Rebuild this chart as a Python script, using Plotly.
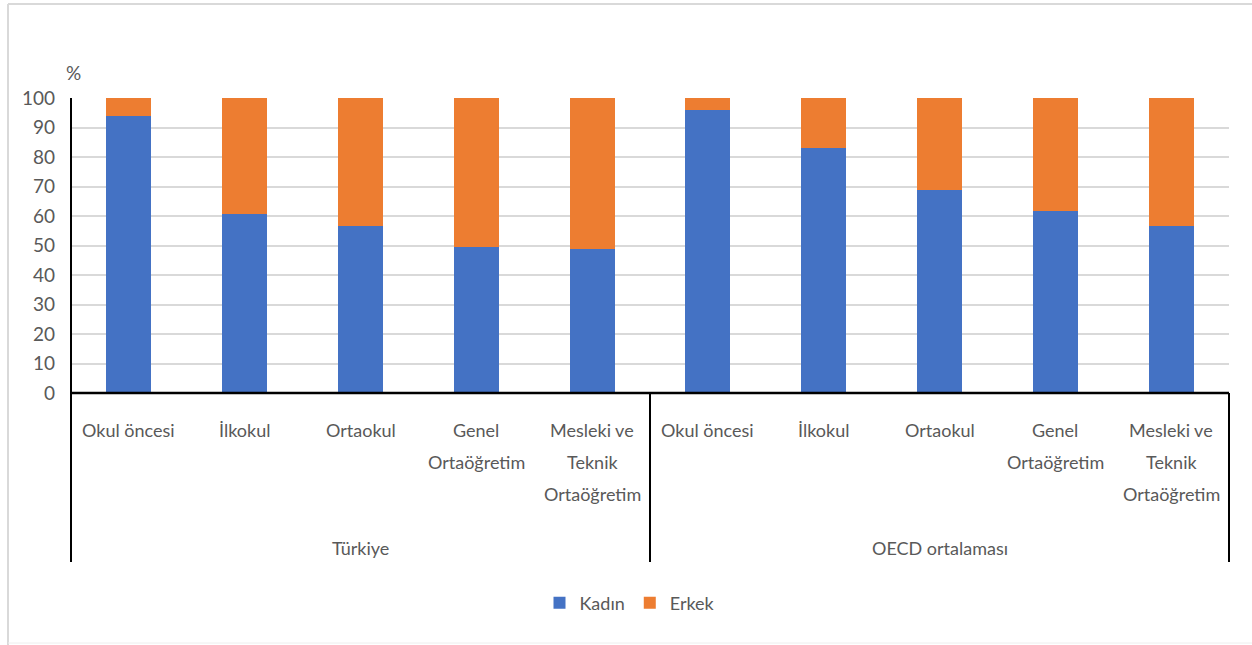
import plotly.graph_objects as go

groups = ["Türkiye", "OECD ortalaması"]
levels = ["Okul öncesi", "İlkokul", "Ortaokul", "Genel<br>Ortaöğretim", "Mesleki ve<br>Teknik<br>Ortaöğretim"]
kadin_tr = [94.0, 60.8, 56.7, 49.6, 48.7]
erkek_tr = [6.0, 39.2, 43.3, 50.4, 51.3]
kadin_oecd = [96.0, 82.9, 68.8, 61.7, 56.7]
erkek_oecd = [4.0, 17.1, 31.2, 38.3, 43.3]
y_ticks = [0, 10, 20, 30, 40, 50, 60, 70, 80, 90, 100]

W, H = 1252, 645
L, R, T, B = 71, 23, 98, 252
pw, ph = W - L - R, H - T - B

def px(x):
    return (x - L) / pw

def py(y):
    return (H - B - y) / ph

labels = levels + levels
xpos = list(range(len(labels)))
kadin = kadin_tr + kadin_oecd
erkek = erkek_tr + erkek_oecd

font = "Lato, 'Open Sans', sans-serif"
txt = "#595959"
fig = go.Figure()
fig.add_trace(go.Bar(x=xpos, y=kadin, name="Kadın", marker_color="#4472C4",
                     marker_line_width=0, width=0.39))
fig.add_trace(go.Bar(x=xpos, y=erkek, name="Erkek", marker_color="#ED7D31",
                     marker_line_width=0, width=0.39))

fig.update_layout(
    barmode="stack",
    width=W, height=H,
    margin=dict(l=L, r=R, t=T, b=B, autoexpand=False),
    paper_bgcolor="white", plot_bgcolor="white",
    font=dict(family=font, size=18, color=txt),
    showlegend=True,
    legend=dict(orientation="h", x=px(630), xanchor="center", y=py(603), yanchor="middle",
                font=dict(size=18, color=txt), traceorder="normal",
                itemwidth=30),
)
fig.update_xaxes(
    range=[-0.5, 9.5], tickmode="array", tickvals=xpos, ticktext=[""] * len(xpos),
    showgrid=False, zeroline=False, showline=False, ticks="",
    fixedrange=True,
)
fig.update_yaxes(
    range=[0, 100], tickmode="array", tickvals=y_ticks,
    showgrid=True, gridcolor="#D9D9D9", gridwidth=2,
    zeroline=False, showline=False, ticks="",
    tickfont=dict(size=19, color=txt), ticklabelstandoff=15,
    fixedrange=True,
)

# category labels (one annotation per text line, Excel-like line spacing)
for xi, lab in zip(xpos, labels):
    for k, line in enumerate(lab.split("<br>")):
        fig.add_annotation(text=line, xref="x", yref="paper", x=xi, y=py(430 + 32 * k),
                           xanchor="center", yanchor="middle", showarrow=False,
                           font=dict(size=18, color=txt))

# axis lines and group dividers
fig.add_shape(type="line", xref="paper", yref="paper", x0=0, x1=1, y0=0, y1=0,
              line=dict(color="black", width=2.5), layer="above")
for xv in [0, 0.5, 1]:
    top = 1 if xv == 0 else 0
    fig.add_shape(type="line", xref="paper", yref="paper", x0=xv, x1=xv,
                  y0=py(562), y1=top, line=dict(color="black", width=2), layer="above")

# outer frame
fig.add_shape(type="line", xref="paper", yref="paper", x0=px(8), x1=px(1252), y0=py(4), y1=py(4),
              line=dict(color="#D9D9D9", width=2))
fig.add_shape(type="line", xref="paper", yref="paper", x0=px(8), x1=px(8), y0=py(4), y1=py(645),
              line=dict(color="#D9D9D9", width=2))
fig.add_shape(type="line", xref="paper", yref="paper", x0=px(8), x1=px(1252), y0=py(643), y1=py(643),
              line=dict(color="#EEEEEE", width=1))

fig.add_annotation(text="%", xref="paper", yref="paper", x=px(73), y=py(72),
                   xanchor="center", yanchor="middle", showarrow=False,
                   font=dict(size=19, color=txt))
for i, g in enumerate(groups):
    fig.add_annotation(text=g, xref="paper", yref="paper", x=0.25 + 0.5 * i, y=py(548),
                       xanchor="center", yanchor="middle", showarrow=False,
                       font=dict(size=18, color=txt))

fig.write_html("out.html", config={"displayModeBar": False},
               post_script="document.body.style.margin='0';document.body.style.overflow='hidden';")
